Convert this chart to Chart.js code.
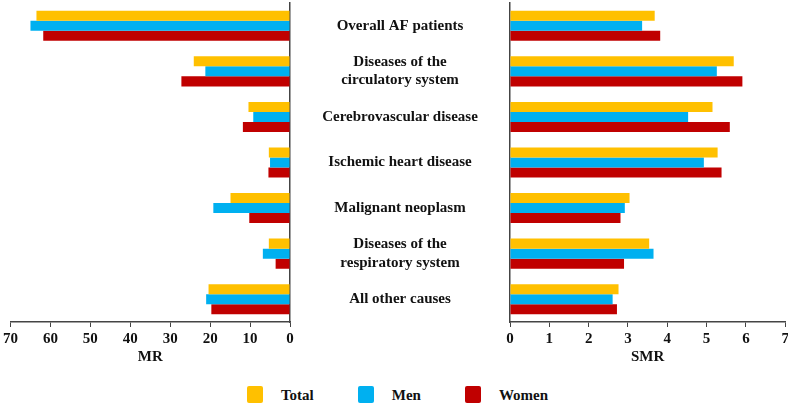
<!DOCTYPE html>
<html>
<head>
<meta charset="utf-8">
<script src="https://cdn.jsdelivr.net/npm/chart.js@4"></script>
<style>
  body { margin: 0; background: #fff; }
  #wrap { position: relative; width: 788px; height: 403px; overflow: hidden; background: #fff; }
  #left { position: absolute; left: 0; top: 0; }
  #right { position: absolute; left: 500px; top: 0; }
  #legend { position: absolute; left: 0; top: 386px; width: 795px; display: flex; justify-content: center;
            font: bold 15px "Liberation Serif", "Times New Roman", serif; color: #111; }
  #legend .item { display: flex; align-items: flex-start; }
  #legend .box { width: 16px; height: 17px; border-radius: 2px; margin-right: 18px; }
  #legend .lbl { line-height: 18px; }
</style>
</head>
<body>
<div id="wrap">
  <canvas id="left" width="510" height="370"></canvas>
  <canvas id="right" width="292" height="370"></canvas>
  <div id="legend"></div>
</div>
<script>
'use strict';

const categories = [
  'Overall AF patients',
  ['Diseases of the', 'circulatory system'],
  'Cerebrovascular disease',
  'Ischemic heart disease',
  'Malignant neoplasm',
  ['Diseases of the', 'respiratory system'],
  'All other causes'
]
const seriesNames = ['Total', 'Men', 'Women']
const seriesColors = ['#FFC000', '#00B0F0', '#C00000']

// mortality rate (left panel)
const mrTotal = [63.5, 24.1, 10.4, 5.3, 14.9, 5.3, 20.4]
const mrMen = [65.0, 21.2, 9.2, 5.0, 19.2, 6.8, 21.0]
const mrWomen = [61.8, 27.2, 11.8, 5.4, 10.2, 3.6, 19.7]

// standardized mortality ratio (right panel)
const smrTotal = [3.68, 5.69, 5.15, 5.28, 3.04, 3.54, 2.76]
const smrMen = [3.36, 5.26, 4.53, 4.93, 2.92, 3.65, 2.61]
const smrWomen = [3.82, 5.91, 5.59, 5.38, 2.81, 2.90, 2.72]

const fontFamily = '"Liberation Serif", "Times New Roman", serif'
const font = { family: fontFamily, size: 15, weight: 'bold', lineHeight: 1.22 }
const axisColor = '#444'

// centre the category labels in the gap between the two panels
const m = document.createElement('canvas').getContext('2d')
m.font = 'bold 15px ' + fontFamily
const widest = Math.max(...categories.flat().map(s => m.measureText(s).width))
const labelPad = 110 - widest / 2

function makeSets(values) {
    return values.map((v, i) => ({
        label: seriesNames[i],
        data: v,
        backgroundColor: seriesColors[i],
        borderWidth: 0,
        barPercentage: 1.0,
        categoryPercentage: 0.66
    }))
}

function xAxis(max, title, reverse) {
    return {
        min: 0, max: max, reverse: reverse,
        ticks: { stepSize: max / 7, color: '#111', font: font, padding: 3, maxRotation: 0 },
        grid: { drawOnChartArea: false, drawTicks: true, tickLength: 5, color: axisColor },
        border: { display: true, color: axisColor, width: 1.5 },
        title: { display: true, text: title, color: '#111', font: font, padding: { top: 0, bottom: 4 } },
        afterFit: (s) => { s.height = 48 }
    }
}

Chart.defaults.font.family = fontFamily

new Chart(document.getElementById('left'), {
    type: 'bar',
    data: { labels: categories, datasets: makeSets([mrTotal, mrMen, mrWomen]) },
    options: {
        indexAxis: 'y',
        responsive: false,
        animation: false,
        layout: { padding: { left: 9, top: 3, right: 0, bottom: 0 } },
        plugins: { legend: { display: false }, tooltip: { enabled: false } },
        scales: {
            x: xAxis(70, 'MR', true),
            y: {
                position: 'right',
                ticks: { color: '#111', font: font, crossAlign: 'center', padding: labelPad },
                grid: { display: false, drawTicks: false },
                border: { display: true, color: axisColor, width: 1.5 },
                afterFit: (s) => {
                    s.width = 220
                    s.paddingTop = 0
                    s.paddingBottom = 0
                }
            }
        }
    }
})

new Chart(document.getElementById('right'), {
    type: 'bar',
    data: { labels: categories, datasets: makeSets([smrTotal, smrMen, smrWomen]) },
    options: {
        indexAxis: 'y',
        responsive: false,
        animation: false,
        layout: { padding: { left: 10, top: 3, right: 3, bottom: 0 } },
        plugins: { legend: { display: false }, tooltip: { enabled: false } },
        scales: {
            x: xAxis(7, 'SMR', false),
            y: {
                position: 'left',
                ticks: { display: false },
                grid: { display: false, drawTicks: false },
                border: { display: true, color: axisColor, width: 1.5 },
                afterFit: (s) => { s.width = 0 }
            }
        }
    }
})

// legend
const legend = document.getElementById('legend')
seriesNames.forEach((name, i) => {
    const item = document.createElement('div')
    item.className = 'item'
    if (i < seriesNames.length - 1) item.style.marginRight = '44px'
    item.innerHTML = `<div class="box" style="background:${seriesColors[i]}"></div><div class="lbl">${name}</div>`
    legend.appendChild(item)
})
</script>
</body>
</html>
